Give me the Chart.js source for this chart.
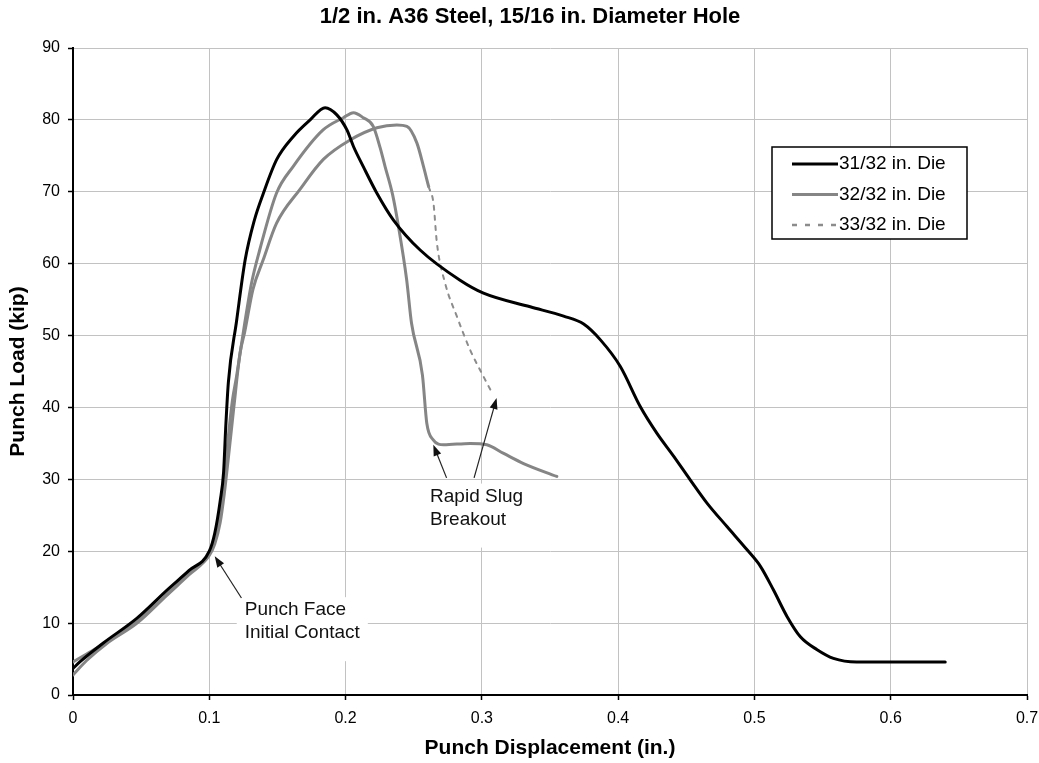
<!DOCTYPE html>
<html>
<head>
<meta charset="utf-8">
<script src="https://cdn.jsdelivr.net/npm/chart.js@4.4.1/dist/chart.umd.min.js"></script>
<style>
  html, body { margin: 0; padding: 0; background: #fff; }
</style>
</head>
<body>
<canvas id="punchChart" width="1039" height="763"></canvas>
<script>
const FONT = '"Liberation Sans", Arial, sans-serif';

const chartTitle = '1/2 in. A36 Steel, 15/16 in. Diameter Hole';
const xTitle = 'Punch Displacement (in.)';
const yTitle = 'Punch Load (kip)';
const dieLabels = ['31/32 in. Die', '32/32 in. Die', '33/32 in. Die'];

// 31/32 in. die
const die31X = [0, 0.005, 0.022, 0.047, 0.069, 0.085, 0.1, 0.104, 0.108, 0.1105, 0.112, 0.114, 0.12, 0.1263, 0.133, 0.1397,
  0.1495, 0.1617, 0.174, 0.185, 0.1936, 0.201, 0.2058, 0.213, 0.223, 0.235, 0.2547, 0.284, 0.3012, 0.3355, 0.36, 0.3747,
  0.387, 0.4016, 0.4163, 0.4285, 0.4408, 0.453, 0.4652, 0.48, 0.4946, 0.5044, 0.514, 0.524, 0.5337, 0.546, 0.558, 0.575, 0.64];
const die31Y = [3.7, 4.6, 7.2, 10.7, 14.6, 17.3, 20.0, 22.5, 27, 31, 37, 43.5, 52, 60.5, 66, 69.8,
  74.5, 77.7, 80.0, 81.7, 80.7, 78.6, 76.3, 73.5, 69.8, 66.1, 61.9, 57.7, 55.9, 54.0, 52.7, 51.6,
  49.4, 45.7, 40.1, 36.4, 33.2, 29.9, 26.7, 23.4, 20.2, 17.9, 14.6, 10.9, 8.1, 6.3, 5.1, 4.6, 4.6];

// 32/32 in. die
const die32X = [0, 0.01, 0.025, 0.047, 0.069, 0.085, 0.1, 0.104, 0.108, 0.111, 0.114, 0.117, 0.12, 0.126, 0.131, 0.137,
  0.1493, 0.1615, 0.1835, 0.1984, 0.2058, 0.213, 0.2203, 0.2254, 0.229, 0.2345, 0.2388, 0.2448, 0.2484, 0.2564, 0.2596,
  0.2643, 0.272, 0.2914, 0.3037, 0.316, 0.3306, 0.355];
const die32Y = [4.6, 5.7, 7.4, 10.2, 14.0, 16.9, 19.6, 21.5, 25, 30, 36, 41, 44.3, 51.7, 57.3, 61.9,
  69.8, 73.5, 78.6, 80.3, 81.0, 80.3, 79.1, 76.1, 73.5, 69.6, 65.2, 57.8, 51.7, 44.5, 37.8,
  35.5, 34.8, 35.0, 34.8, 33.6, 32.2, 30.4];

// 33/32 in. die (dashed after the drop starts)
const die33X = [0, 0.01, 0.025, 0.047, 0.069, 0.085, 0.1, 0.104, 0.108, 0.111, 0.114, 0.118, 0.1226, 0.126, 0.132, 0.1395,
  0.1493, 0.1664, 0.1837, 0.2033, 0.223, 0.2376, 0.245, 0.2523, 0.2572, 0.261, 0.2645, 0.267, 0.273, 0.2816, 0.2914,
  0.3012, 0.307];
const die33Y = [2.8, 4.8, 7.2, 10.0, 13.9, 16.7, 19.4, 21, 24, 28, 33, 40, 47.6, 50.5, 56.4, 60.5,
  65.6, 70.3, 74.5, 77.2, 78.9, 79.3, 79.1, 76.8, 73.5, 70.7, 68.4, 62.9, 57.3, 52.7, 48.0,
  44.3, 42.2];
const die33DashFrom = 0.261;

// text notes with arrows, in data units
const notes = [
  { lines: ['Punch Face', 'Initial Contact'], x: 0.126, y: 11.8,
    arrows: [[0.1236, 13.5, 0.104, 19.3]] },
  { lines: ['Rapid Slug', 'Breakout'], x: 0.262, y: 27.6,
    arrows: [[0.2741, 30.2, 0.2644, 34.8], [0.2943, 30.2, 0.3108, 41.3]] }
];

const toPoints = (xs, ys) => xs.map((x, i) => ({ x: x, y: ys[i] }));

function arrow(ctx, x1, y1, x2, y2) {
  const a = Math.atan2(y2 - y1, x2 - x1);
  ctx.beginPath();
  ctx.moveTo(x1, y1);
  ctx.lineTo(x2 - 8 * Math.cos(a), y2 - 8 * Math.sin(a));
  ctx.stroke();
  ctx.beginPath();
  ctx.moveTo(x2, y2);
  ctx.lineTo(x2 - 11 * Math.cos(a) + 4 * Math.sin(a), y2 - 11 * Math.sin(a) - 4 * Math.cos(a));
  ctx.lineTo(x2 - 11 * Math.cos(a) - 4 * Math.sin(a), y2 - 11 * Math.sin(a) + 4 * Math.cos(a));
  ctx.closePath();
  ctx.fill();
}

// title drawn by hand: it sits a bit right of the canvas centre
const titlePlugin = {
  id: 'titleText',
  afterDraw(chart) {
    const { ctx } = chart;
    ctx.save();
    ctx.font = 'bold 22px ' + FONT;
    ctx.fillStyle = '#000';
    ctx.textAlign = 'center';
    ctx.textBaseline = 'middle';
    ctx.fillText(chartTitle, 530, 17);
    ctx.restore();
  }
};

const notesPlugin = {
  id: 'notes',
  beforeDatasetsDraw(chart) {
    const { ctx, scales: { x, y } } = chart;
    ctx.save();
    ctx.font = '19px ' + FONT;
    ctx.fillStyle = '#fff';
    notes.forEach(n => {
      const px = x.getPixelForValue(n.x), py = y.getPixelForValue(n.y);
      const w = Math.max(...n.lines.map(t => ctx.measureText(t).width));
      ctx.fillRect(px - 8, py - 13, w + 16, n.lines.length * 23 + 18);
    });
    ctx.restore();
  },
  afterDatasetsDraw(chart) {
    const { ctx, scales: { x, y } } = chart;
    ctx.save();
    ctx.font = '19px ' + FONT;
    ctx.textBaseline = 'middle';
    ctx.fillStyle = '#111';
    ctx.strokeStyle = '#222';
    ctx.lineWidth = 1.2;
    notes.forEach(n => {
      const px = x.getPixelForValue(n.x), py = y.getPixelForValue(n.y);
      n.lines.forEach((t, i) => ctx.fillText(t, px, py + i * 23));
      n.arrows.forEach(a => arrow(ctx, x.getPixelForValue(a[0]), y.getPixelForValue(a[1]),
        x.getPixelForValue(a[2]), y.getPixelForValue(a[3])));
    });
    ctx.restore();
  }
};

// boxed legend inside the plot, top right
const boxLegend = {
  id: 'boxLegend',
  afterDatasetsDraw(chart) {
    const { ctx } = chart;
    const left = 772, top = 147, w = 195, h = 92;
    ctx.save();
    ctx.fillStyle = '#fff';
    ctx.fillRect(left, top, w, h);
    ctx.strokeStyle = '#000';
    ctx.lineWidth = 1.5;
    ctx.strokeRect(left, top, w, h);
    ctx.font = '19px ' + FONT;
    ctx.textBaseline = 'middle';
    chart.data.datasets.forEach((ds, i) => {
      const yy = top + 17 + i * 30.5;
      ctx.beginPath();
      ctx.strokeStyle = ds.legendColor;
      ctx.lineWidth = ds.legendWidth;
      ctx.setLineDash(ds.borderDash || []);
      ctx.moveTo(left + 20, yy);
      ctx.lineTo(left + 66, yy);
      ctx.stroke();
      ctx.setLineDash([]);
      ctx.fillStyle = '#000';
      ctx.fillText(ds.label, left + 67, yy);
    });
    ctx.restore();
  }
};

new Chart(document.getElementById('punchChart'), {
  type: 'line',
  data: {
    datasets: [
      {
        label: dieLabels[0],
        data: toPoints(die31X, die31Y),
        borderColor: '#000',
        borderWidth: 3,
        legendColor: '#000',
        legendWidth: 3
      },
      {
        label: dieLabels[1],
        data: toPoints(die32X, die32Y),
        borderColor: '#858585',
        borderWidth: 3,
        legendColor: '#858585',
        legendWidth: 3
      },
      {
        label: dieLabels[2],
        data: toPoints(die33X, die33Y),
        borderColor: '#858585',
        borderWidth: 3,
        borderDash: [5, 8],
        legendColor: '#8c8c8c',
        legendWidth: 2.5,
        segment: {
          borderDash: c => c.p0.parsed.x >= die33DashFrom ? [4, 6] : [],
          borderWidth: c => c.p0.parsed.x >= die33DashFrom ? 2 : 3,
          borderColor: c => c.p0.parsed.x >= die33DashFrom ? '#8c8c8c' : '#858585'
        }
      }
    ]
  },
  options: {
    responsive: false,
    animation: false,
    devicePixelRatio: 1,
    elements: {
      point: { radius: 0 },
      line: { cubicInterpolationMode: 'monotone', borderJoinStyle: 'round', borderCapStyle: 'round' }
    },
    layout: { padding: { right: 12, left: 0, top: 48, bottom: 0 } },
    plugins: {
      legend: { display: false },
      tooltip: { enabled: false },
      title: { display: false }
    },
    scales: {
      x: {
        type: 'linear',
        min: 0,
        max: 0.7,
        afterFit: s => { s.height = 68; s.paddingRight = 0; s.paddingLeft = 0; },
        ticks: {
          stepSize: 0.1,
          color: '#000',
          padding: 9,
          font: { family: FONT, size: 16 },
          callback: v => String(Math.round(v * 10) / 10)
        },
        grid: { color: '#c2c2c2', lineWidth: 1, tickColor: '#000', tickLength: 5, tickWidth: 1.5 },
        border: { color: '#000', width: 2 },
        title: {
          display: true,
          text: xTitle,
          color: '#000',
          font: { family: FONT, size: 21, weight: 'bold' },
          padding: { top: 0, bottom: 2 }
        }
      },
      y: {
        min: 0,
        max: 90,
        afterFit: s => { s.width = 73; s.paddingTop = 0; s.paddingBottom = 0; },
        ticks: {
          stepSize: 10,
          color: '#000',
          padding: 8,
          font: { family: FONT, size: 16 }
        },
        grid: { color: '#c2c2c2', lineWidth: 1, tickColor: '#000', tickLength: 5, tickWidth: 1.5 },
        border: { color: '#000', width: 2 },
        title: {
          display: true,
          text: yTitle,
          color: '#000',
          font: { family: FONT, size: 21, weight: 'bold' },
          padding: { top: 6, bottom: 0 }
        }
      }
    }
  },
  plugins: [titlePlugin, notesPlugin, boxLegend]
});
</script>
</body>
</html>
